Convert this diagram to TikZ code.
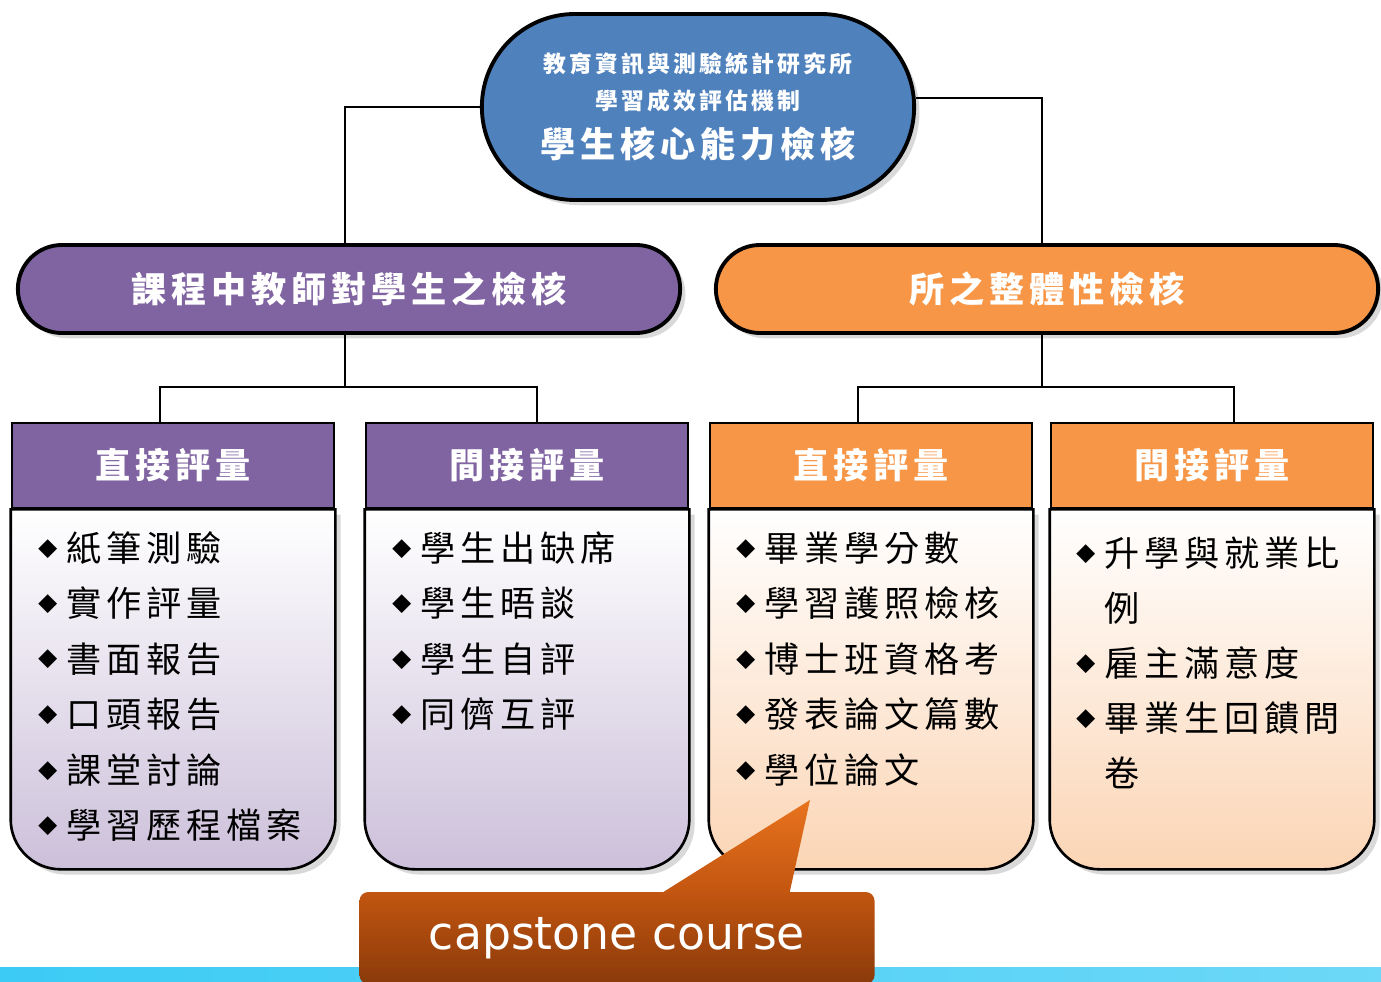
\documentclass[tikz,border=0pt]{standalone}
\usepackage{fontspec}
\newfontfamily\cjk[LetterSpace=14]{Noto Sans CJK TC}
\newfontfamily\capfont{DejaVu Sans}
\usetikzlibrary{shapes.misc,shadows,positioning,calc,backgrounds}
\definecolor{topblue}{HTML}{4F81BD}
\definecolor{lilac}{HTML}{8064A2}
\definecolor{lilacbody}{HTML}{CCC0DA}
\definecolor{tang}{HTML}{F79646}
\definecolor{tangbody}{HTML}{FBD5B5}
\definecolor{rust}{HTML}{C25510}
\definecolor{rustdark}{HTML}{8A3A0A}
\definecolor{rustlight}{HTML}{E8731E}
\definecolor{strip}{HTML}{3CCBF5}
\newcommand\pxw{0.02cm}
\newcommand\bul{\raisebox{3pt}{\fontsize{11}{11}\selectfont ◆}\hspace{5pt}}
\newcommand\nob{\phantom{\bul}}
\newcommand\smallcjk{\fontsize{13}{20}\selectfont}
\tikzset{
  pill/.style={ % stadium-shaped title
    rounded rectangle, draw, line width=2.2pt, text=white,
    font=\cjk\bfseries\fontsize{20}{24}\selectfont,
    drop shadow={shadow xshift=3pt, shadow yshift=-3pt, opacity=0.3}
  },
  cardhead/.style={ % coloured top of a card
    rectangle, draw, line width=1.5pt, text=white,
    minimum width=322*\pxw, minimum height=85*\pxw,
    font=\cjk\bfseries\fontsize{20}{24}\selectfont
  },
  cardbody/.style={ % shaded lower part of a card
    draw, line width=1.5pt, top color=white,
    drop shadow={shadow xshift=3pt, shadow yshift=-3pt, opacity=0.3}
  },
  item/.style={ % one bullet line
    anchor=west, inner sep=0pt, font=\cjk\fontsize{20}{24}\selectfont
  },
  callout/.style={ % the capstone box
    rectangle, rounded corners=5pt, top color=rust, bottom color=rustdark,
    text=white, minimum width=515*\pxw, minimum height=92*\pxw,
    font=\capfont\fontsize{26}{30}\selectfont
  },
  link/.style={line width=1.6pt}
}
\begin{document}
\begin{tikzpicture}[x=0.02cm, y=-0.02cm]
  \useasboundingbox (0,0) rectangle (1381,982);

  % card headers
  \node (h1)[cardhead, fill=lilac] at (173,465.5) {直接評量};
  \node (h2)[cardhead, fill=lilac] at (527,465.5) {間接評量};
  \node (h3)[cardhead, fill=tang] at (871,465.5) {直接評量};
  \node (h4)[cardhead, fill=tang] at (1212,465.5) {間接評量};

  \begin{scope}[on background layer]
    % strip along the bottom
    \shade[left color=strip, right color=strip!75!white] (0,967) rectangle (1381,990);
    % card bodies, round at the bottom only
    \foreach \n/\c in {h1/lilacbody, h2/lilacbody, h3/tangbody, h4/tangbody}
      \path[cardbody, bottom color=\c] (\n.south west) -- ++(0,310)
        arc[start angle=180, end angle=90, radius=50]
        -- ($(\n.south east)+(-50,360)$) arc[start angle=90, end angle=0, radius=50]
        -- (\n.south east) -- cycle;
  \end{scope}

  % items
  \foreach \t [count=\i] in {紙筆測驗,實作評量,書面報告,口頭報告,課堂討論,學習歷程檔案}
    \node (a\i)[item] at (38,{548+55.5*(\i-1)}) {\bul\t};
  \foreach \t [count=\i] in {學生出缺席,學生晤談,學生自評,同儕互評}
    \node (b\i)[item] at (392,{548+55.5*(\i-1)}) {\bul\t};
  \foreach \t [count=\i] in {畢業學分數,學習護照檢核,博士班資格考,發表論文篇數,學位論文}
    \node (c\i)[item] at (736,{548+55.5*(\i-1)}) {\bul\t};
  \foreach \t [count=\i] in {{\bul 升學與就業比},{\nob 例},{\bul 雇主滿意度},{\bul 畢業生回饋問},{\nob 卷}}
    \node (d\i)[item] at (1076,{553+55*(\i-1)}) {\t};

  % titles
  \node (top)[pill, fill=topblue, minimum width=444*\pxw, minimum height=186*\pxw, align=center] at (698,107)
    {\smallcjk 教育資訊與測驗統計研究所\\[-3pt] \smallcjk 學習成效評估機制\\[3pt]
     \fontsize{20}{24}\selectfont 學生核心能力檢核};
  \node (lb)[pill, fill=lilac, minimum width=674*\pxw, minimum height=88*\pxw] at (349,289) {課程中教師對學生之檢核};
  \node (rb)[pill, fill=tang, minimum width=674*\pxw, minimum height=88*\pxw] at (1047,289) {所之整體性檢核};

  % connectors
  \coordinate (lj) at ($(lb.south)+(-4,52)$);
  \coordinate (rj) at ($(rb.south)+(-5,52)$);
  \draw[link] (top.west) -| ($(lb.north)+(-4,0)$);
  \draw[link] ($(top.east)+(0,-9)$) -| ($(rb.north)+(-5,0)$);
  \draw[link] ($(lb.south)+(-4,0)$) -- (lj);
  \draw[link] ($(rb.south)+(-5,0)$) -- (rj);
  \draw[link] ($(h1.north)+(-13,0)$) |- (lj) -| ($(h2.north)+(10,0)$);
  \draw[link] ($(h3.north)+(-13,0)$) |- (rj) -| ($(h4.north)+(22,0)$);

  % capstone callout
  \node (cap)[callout] at (617,938) {capstone course};
  \coordinate (tip) at (810,800);
  \shade[top color=rustlight, bottom color=rust] ($(cap.north west)+(300,3)$) -- (tip) -- ($(cap.north west)+(430,3)$) -- cycle;
\end{tikzpicture}
\end{document}
